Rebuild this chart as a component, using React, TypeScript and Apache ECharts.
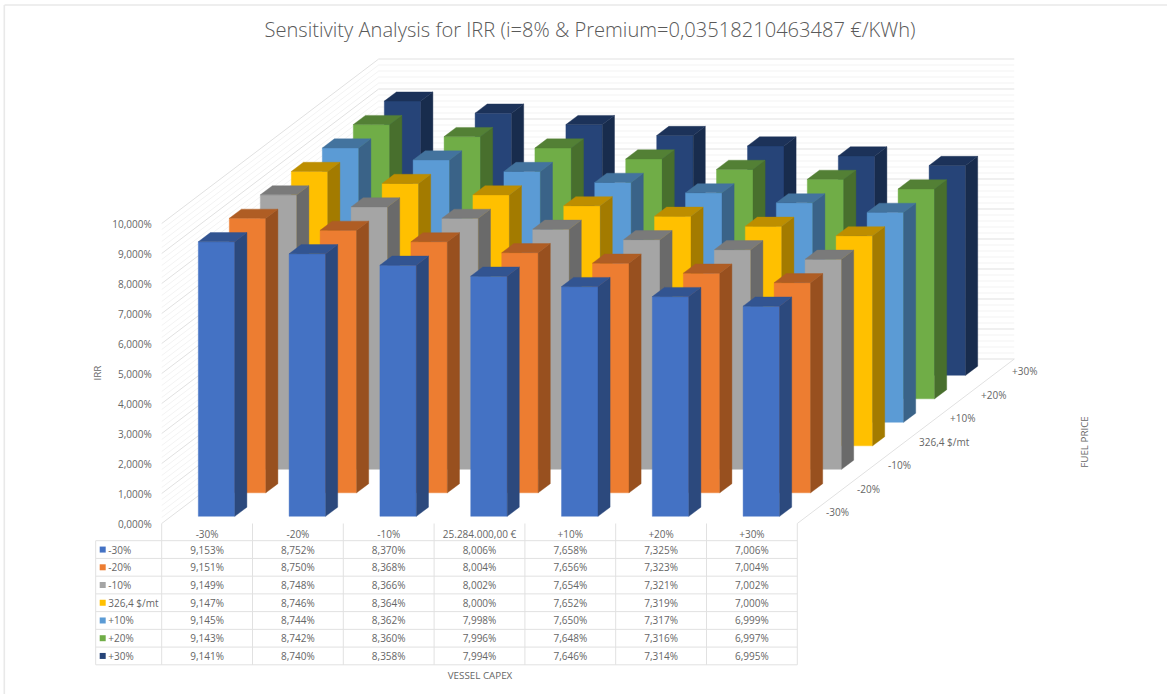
import React, { useEffect, useRef } from "react";
import * as echarts from "echarts";

const capexLabels = ["-30%", "-20%", "-10%", "25.284.000,00 €", "+10%", "+20%", "+30%"];
const fuelLabels = ["-30%", "-20%", "-10%", "326,4 $/mt", "+10%", "+20%", "+30%"];
const fuelColors = ["#4472C4", "#ED7D31", "#A5A5A5", "#FFC000", "#5B9BD5", "#70AD47", "#264478"];

const irrFuelM30 = [9.153, 8.752, 8.37, 8.006, 7.658, 7.325, 7.006];
const irrFuelM20 = [9.151, 8.75, 8.368, 8.004, 7.656, 7.323, 7.004];
const irrFuelM10 = [9.149, 8.748, 8.366, 8.002, 7.654, 7.321, 7.002];
const irrFuelBase = [9.147, 8.746, 8.364, 8.0, 7.652, 7.319, 7.0];
const irrFuelP10 = [9.145, 8.744, 8.362, 7.998, 7.65, 7.317, 6.999];
const irrFuelP20 = [9.143, 8.742, 8.36, 7.996, 7.648, 7.316, 6.997];
const irrFuelP30 = [9.141, 8.74, 8.358, 7.994, 7.646, 7.314, 6.995];
const irrRows = [irrFuelM30, irrFuelM20, irrFuelM10, irrFuelBase, irrFuelP10, irrFuelP20, irrFuelP30];

const wallTicks = [0, 0.2, 0.4, 0.6, 0.8, 1, 1.2, 1.4, 1.6, 1.8, 2, 2.2, 2.4, 2.6, 2.8, 3, 3.2, 3.4, 3.6, 3.8, 4, 4.2, 4.4, 4.6, 4.8, 5, 5.2, 5.4, 5.6, 5.8, 6, 6.2, 6.4, 6.6, 6.8, 7, 7.2, 7.4, 7.6, 7.8, 8, 8.2, 8.4, 8.6, 8.8, 9, 9.2, 9.4, 9.6, 9.8, 10];

const FONT = "'Open Sans', sans-serif";
const TEXT = "#666666";

// Oblique projection: each fuel-price row moves back along this vector, in pixels.
const ROW_DX = 31;
const ROW_DY = -23.5;
const BAR_WIDTH_SHARE = 0.402;
const BAR_DEPTH_SHARE = 0.39;

const GRID_LEFT = 161.7;
const GRID_WIDTH = 635.6;
const GRID_TOP = 223.5;
const GRID_HEIGHT = 300;

const percent = (v: number) => v.toFixed(3).replace(".", ",") + "%";

function shade(hex: string, f: number) {
  const n = parseInt(hex.slice(1), 16);
  const c = [(n >> 16) & 255, (n >> 8) & 255, n & 255].map((x) => Math.round(x * f));
  return `rgb(${c[0]},${c[1]},${c[2]})`;
}

// One prism per capex category, its front face placed by the axes and pushed back by row.
function barRenderer(row: number, color: string) {
  return (_params: any, api: any) => {
    const cat = api.value(0);
    const val = api.value(1);
    const band = api.size([1, 0])[0];
    const base = api.coord([cat, 0]);
    const top = api.coord([cat, val]);
    const w = band * BAR_WIDTH_SHARE;
    const sx = ROW_DX * (row + (1 - BAR_DEPTH_SHARE) / 2);
    const sy = ROW_DY * (row + (1 - BAR_DEPTH_SHARE) / 2);
    const dx = ROW_DX * BAR_DEPTH_SHARE;
    const dy = ROW_DY * BAR_DEPTH_SHARE;
    const l = base[0] - w / 2 + sx;
    const r = l + w;
    const b = base[1] + sy;
    const t = top[1] + sy;
    const poly = (points: number[][], fill: string) => ({
      type: "polygon",
      shape: { points },
      style: { fill, stroke: fill, lineWidth: 0.4 },
    });
    return {
      type: "group",
      children: [
        poly([[l, b], [r, b], [r, t], [l, t]], color),
        poly([[r, b], [r + dx, b + dy], [r + dx, t + dy], [r, t]], shade(color, 0.64)),
        poly([[l, t], [r, t], [r + dx, t + dy], [l + dx, t + dy]], shade(color, 0.74)),
      ],
    };
  };
}

// Left and back walls: one bent line per tick, heavier on whole percentages.
function wallRenderer(_params: any, api: any) {
  const v = api.value(0);
  const band = api.size([1, 0])[0];
  const c0 = api.coord([0, v]);
  const c6 = api.coord([6, v]);
  const x0 = c0[0] - band / 2;
  const x1 = c6[0] + band / 2;
  const y = c0[1];
  const backDx = ROW_DX * 7;
  const backDy = ROW_DY * 7;
  const major = Math.abs(v - Math.round(v)) < 1e-6;
  return {
    type: "polyline",
    shape: { points: [[x0, y], [x0 + backDx, y + backDy], [x1 + backDx, y + backDy]] },
    style: { fill: "none", stroke: major ? "#e1e1e1" : "#f3f3f3", lineWidth: 1 },
  };
}

// Right edge of the floor.
function floorEdgeRenderer(_params: any, api: any) {
  const band = api.size([1, 0])[0];
  const c6 = api.coord([6, 0]);
  const x1 = c6[0] + band / 2;
  return {
    type: "line",
    shape: { x1, y1: c6[1], x2: x1 + ROW_DX * 7, y2: c6[1] + ROW_DY * 7 },
    style: { stroke: "#e1e1e1", lineWidth: 1 },
  };
}

function tableGraphics() {
  const out: any[] = [];
  const line = "#e1e1e1";
  const tableLeft = 95.7;
  const headerTop = 523.5;
  const bodyTop = 540.7;
  const rowH = 17.73;
  const colW = GRID_WIDTH / 7;
  const bottom = bodyTop + rowH * 7;
  const addLine = (x1: number, y1: number, x2: number, y2: number) =>
    out.push({ type: "line", silent: true, shape: { x1, y1, x2, y2 }, style: { stroke: line, lineWidth: 1 } });

  // Frame of the chart area: top and left edges only.
  out.push({ type: "line", silent: true, shape: { x1: 4.5, y1: 5, x2: 1167, y2: 5 }, style: { stroke: "#e9e9e9", lineWidth: 1.6 } });
  out.push({ type: "line", silent: true, shape: { x1: 4.3, y1: 5, x2: 4.3, y2: 694 }, style: { stroke: "#e9e9e9", lineWidth: 1.6 } });

  for (let r = 0; r <= 7; r++) addLine(tableLeft, bodyTop + r * rowH, GRID_LEFT + GRID_WIDTH, bodyTop + r * rowH);
  addLine(tableLeft, bodyTop, tableLeft, bottom);
  for (let c = 0; c <= 7; c++) addLine(GRID_LEFT + c * colW, headerTop, GRID_LEFT + c * colW, bottom);

  irrRows.forEach((row, r) => {
    const cy = bodyTop + (r + 0.5) * rowH;
    out.push({
      type: "rect",
      silent: true,
      shape: { x: 99.7, y: cy - 3, width: 6, height: 6 },
      style: { fill: fuelColors[r] },
    });
    out.push({
      type: "text",
      silent: true,
      style: { x: 108.3, y: cy, text: fuelLabels[r], font: `10px ${FONT}`, fill: TEXT, align: "left", verticalAlign: "middle" },
    });
    row.forEach((v, c) => {
      out.push({
        type: "text",
        silent: true,
        style: {
          x: GRID_LEFT + (c + 0.5) * colW,
          y: cy,
          text: percent(v),
          font: `10px ${FONT}`,
          fill: TEXT,
          align: "center",
          verticalAlign: "middle",
        },
      });
    });
  });

  // Depth-axis labels step along the floor edge.
  fuelLabels.forEach((label, j) => {
    out.push({
      type: "text",
      silent: true,
      style: {
        x: 826 + ROW_DX * j,
        y: 512.3 + ROW_DY * j,
        text: label,
        font: `10px ${FONT}`,
        fill: TEXT,
        align: "left",
        verticalAlign: "middle",
      },
    });
  });

  out.push({
    type: "text",
    silent: true,
    style: { x: 480, y: 675, text: "VESSEL CAPEX", font: `9.8px ${FONT}`, fill: TEXT, align: "center", verticalAlign: "middle" },
  });
  out.push({
    type: "text",
    silent: true,
    x: 97,
    y: 373,
    rotation: Math.PI / 2,
    style: { x: 0, y: 0, text: "IRR", font: `9.8px ${FONT}`, fill: TEXT, align: "center", verticalAlign: "middle" },
  });
  out.push({
    type: "text",
    silent: true,
    x: 1084,
    y: 442,
    rotation: Math.PI / 2,
    style: { x: 0, y: 0, text: "FUEL PRICE", font: `9.8px ${FONT}`, fill: TEXT, align: "center", verticalAlign: "middle" },
  });
  out.push({
    type: "text",
    silent: true,
    style: {
      x: 590,
      y: 28.5,
      text: "Sensitivity Analysis for IRR (i=8% & Premium=0,03518210463487 €/KWh)",
      font: `300 20.12px ${FONT}`,
      fill: "#595959",
      align: "center",
      verticalAlign: "middle",
    },
  });
  return out;
}

export default function App() {
  const ref = useRef<HTMLDivElement>(null);
  useEffect(() => {
    document.body.style.margin = "0";
    const chart = echarts.init(ref.current!, undefined, { renderer: "svg" });
    const barSeries = irrRows
      .map((row, j) => ({
        type: "custom",
        name: fuelLabels[j],
        coordinateSystem: "cartesian2d",
        renderItem: barRenderer(j, fuelColors[j]),
        data: row.map((v, i) => [i, v]),
        encode: { x: 0, y: 1 },
        z: 10 + (6 - j),
        silent: true,
        clip: false,
      }))
      .reverse();
    chart.setOption({
      animation: false,
      backgroundColor: "#ffffff",
      grid: { left: GRID_LEFT, top: GRID_TOP, width: GRID_WIDTH, height: GRID_HEIGHT, containLabel: false },
      xAxis: {
        type: "category",
        data: capexLabels,
        axisLine: { show: false },
        axisTick: { show: false },
        splitLine: { show: false },
        axisLabel: { color: TEXT, fontFamily: FONT, fontSize: 10, margin: 5, interval: 0 },
      },
      yAxis: {
        type: "value",
        min: 0,
        max: 10,
        interval: 1,
        axisLine: { show: false },
        axisTick: { show: false },
        splitLine: { show: false },
        axisLabel: { color: TEXT, fontFamily: FONT, fontSize: 10, margin: 10, formatter: (v: number) => percent(v) },
      },
      series: [
        {
          type: "custom",
          name: "walls",
          coordinateSystem: "cartesian2d",
          renderItem: wallRenderer,
          data: wallTicks.map((v) => [v]),
          encode: { y: 0 },
          z: 1,
          silent: true,
          clip: false,
        },
        {
          type: "custom",
          name: "floor edge",
          coordinateSystem: "cartesian2d",
          renderItem: floorEdgeRenderer,
          data: [[6, 0]],
          encode: { x: 0, y: 1 },
          z: 1,
          silent: true,
          clip: false,
        },
        ...barSeries,
      ],
      graphic: { elements: tableGraphics() },
    });
    return () => chart.dispose();
  }, []);
  return <div ref={ref} style={{ width: 1167, height: 694 }} />;
}
